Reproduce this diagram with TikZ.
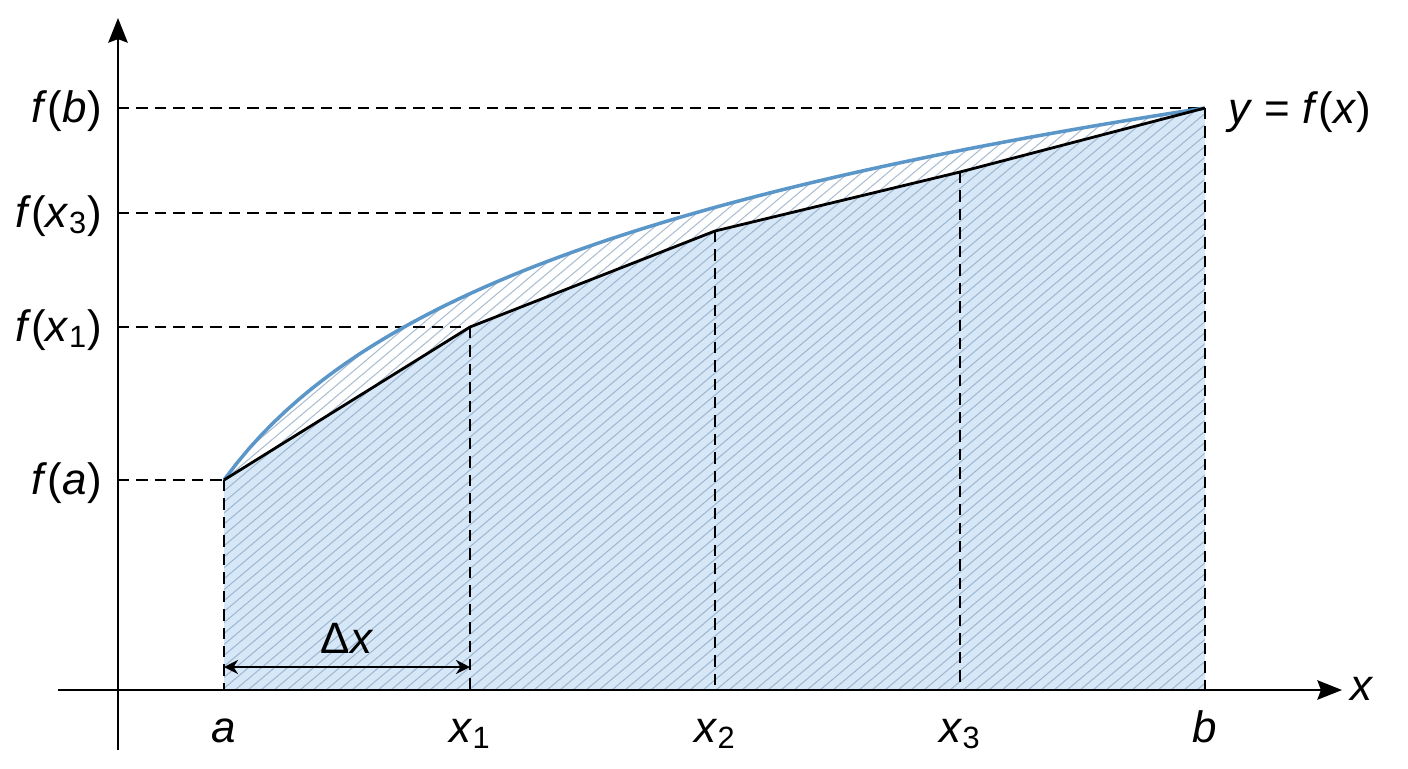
\documentclass[tikz,border=0pt]{standalone}
\usepackage{fontspec}
\setmainfont{Liberation Sans}
\usetikzlibrary{arrows.meta}
\definecolor{areablue}{HTML}{D6E8F8}
\definecolor{curveblue}{HTML}{5A96C8}
\definecolor{hatchgray}{HTML}{8FA8C2}
\newcommand{\xs}[1]{\textit{x}\textsubscript{#1}}
\tikzset{lab/.style={font=\fontsize{25}{30}\selectfont,inner sep=0pt},
  guide/.style={line width=1.3pt,dash pattern=on 6.5pt off 4pt},
  axis/.style={line width=1.5pt,-{Stealth[length=14pt,width=11pt,inset=2pt]}}}
\begin{document}
\begin{tikzpicture}[x=0.02cm,y=-0.02cm]
\useasboundingbox (0,0) rectangle (1408,768);
\coordinate(O) at (118,690);
\coordinate(A) at (224,480);\coordinate(X1) at (470,327);\coordinate(X2) at (715,231);
\coordinate(X3) at (960,172);\coordinate(B) at (1205,108);\coordinate(C3) at (680,213);
% area under the chords
\fill[areablue](A)--(X1)--(X2)--(X3)--(B)--(B|-O)--(A|-O)--cycle;
\begin{scope}
\clip plot[domain=0:1,samples=80]({224+981*\x},{480-372*ln(1+8*\x)/ln(9)})--(B|-O)--(A|-O)--cycle;
\foreach \s in {-480,-467,...,1210}{\draw[hatchgray,opacity=0.75,line width=0.6pt](\s,690)--++(700,-590);}
\end{scope}
% guides
\foreach \p in {A,X1,X2,X3,B}{\draw[guide](\p)--(\p|-O);}
\foreach \p in {A,X1,C3,B}{\draw[guide](O|-\p)--(\p);}
\draw[curveblue,line width=2pt]plot[domain=0:1,samples=80]({224+981*\x},{480-372*ln(1+8*\x)/ln(9)});
\draw[line width=1.6pt,line join=round](A)--(X1)--(X2)--(X3)--(B);
% axes
\coordinate(ybot) at (118,750);\coordinate(ytop) at (118,18);
\coordinate(xl) at (58,690);\coordinate(xr) at (1342,690);
\draw[axis](ybot)--(ytop);
\draw[axis](xl)--(xr);
\node[lab,anchor=base west](xlab) at (1350,700){\textit{x}};
\foreach \y/\t/\n in {122/{\textit{f}(\textit{b})}/fb,227/{\textit{f}(\xs{3})}/fx3,341/{\textit{f}(\xs{1})}/fx1,494/{\textit{f}(\textit{a})}/fa}{\node[lab,anchor=base east](\n) at (102,\y){\t};}
\foreach \p/\t/\n in {A/\textit{a}/la,X1/\xs{1}/lx1,X2/\xs{2}/lx2,X3/\xs{3}/lx3,B/\textit{b}/lb}{\node[lab,anchor=base](\n) at ([yshift=-1.04cm]\p|-O){\t};}
\node[lab,anchor=base west](curve) at (1228,123){\textit{y} = \textit{f}(\textit{x})};
% width of a strip
\coordinate(d1) at (224,667);\coordinate(d2) at (470,667);
\draw[line width=1.3pt,{Stealth[length=8pt,width=8pt]}-{Stealth[length=8pt,width=8pt]}](d1)--(d2);
\node[lab,anchor=base](dx) at (347,653){Δ\textit{x}};
\end{tikzpicture}
\end{document}
